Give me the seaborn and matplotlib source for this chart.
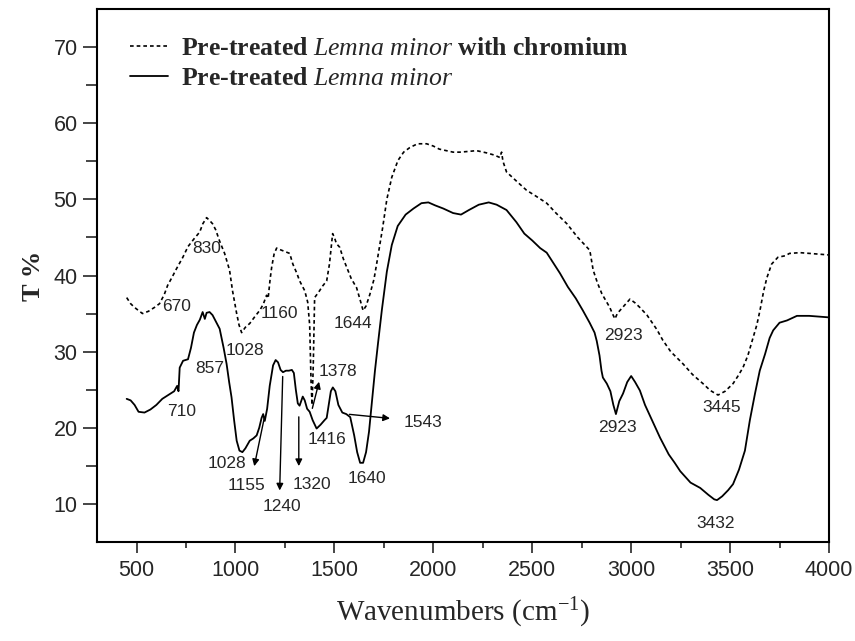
import matplotlib
matplotlib.use("Agg")
import matplotlib.pyplot as plt
import seaborn as sns
import pandas as pd

# ---- data ----
solid_x = [450, 470, 490, 510, 540, 570, 600, 630, 660, 690, 705, 712, 718, 735, 760, 775, 790,
           805, 820, 834, 845, 854, 869, 884, 900, 920, 940, 955, 968, 980, 993, 1006, 1020, 1035,
           1050, 1072, 1090, 1107, 1120, 1132, 1140, 1148, 1160, 1173, 1190, 1203, 1215, 1228, 1240,
           1255, 1270, 1285, 1295, 1305, 1315, 1324, 1340, 1350, 1362, 1375, 1390, 1410, 1430, 1450,
           1461, 1470, 1482, 1492, 1505, 1520, 1540, 1560, 1580, 1600, 1615, 1630, 1645, 1660, 1675,
           1690, 1705, 1720, 1740, 1765, 1790, 1820, 1860, 1900, 1940, 1975, 2010, 2050, 2100, 2140,
           2180, 2230, 2280, 2320, 2370, 2420, 2460, 2500, 2540, 2573, 2610, 2640, 2680, 2720, 2756,
           2790, 2815, 2826, 2840, 2850, 2857, 2877, 2895, 2910, 2923, 2940, 2959, 2980, 3000, 3020,
           3044, 3070, 3100, 3146, 3190, 3220, 3248, 3300, 3349, 3390, 3420, 3434, 3460, 3490, 3515,
           3545, 3575, 3600, 3626, 3650, 3677, 3700, 3718, 3750, 3788, 3838, 3900, 3950, 4000]
solid_y = [23.8, 23.6, 23.0, 22.1, 22.0, 22.4, 23.0, 23.8, 24.3, 24.8, 25.5, 24.8, 27.9, 28.8, 29.0,
           30.5, 32.5, 33.5, 34.2, 35.2, 34.3, 35.1, 35.2, 34.8, 34.0, 33.0, 30.5, 28.4, 26.0, 24.0,
           21.0, 18.3, 17.0, 16.8, 17.3, 18.3, 18.6, 19.0, 20.0, 21.3, 21.8, 20.9, 22.5, 25.5, 28.2,
           28.9, 28.6, 27.6, 27.3, 27.5, 27.5, 27.6, 27.2, 25.0, 23.2, 22.9, 24.1, 23.6, 22.5, 22.1,
           21.0, 19.9, 20.4, 21.0, 21.3, 22.8, 24.8, 25.3, 24.8, 23.0, 22.0, 21.8, 21.4, 19.0, 16.8,
           15.4, 15.4, 16.8, 19.5, 23.5, 27.5, 31.0, 35.5, 40.5, 44.0, 46.5, 48.0, 48.8, 49.5, 49.6,
           49.2, 48.8, 48.2, 48.0, 48.6, 49.3, 49.6, 49.3, 48.6, 47.0, 45.5, 44.6, 43.6, 43.0, 41.5,
           40.3, 38.5, 37.0, 35.4, 33.8, 32.5, 31.4, 29.5, 27.5, 26.6, 25.8, 24.8, 23.0, 21.8, 23.5,
           24.5, 26.0, 26.8, 26.0, 24.9, 23.0, 21.3, 18.7, 16.5, 15.4, 14.3, 12.8, 12.1, 11.2, 10.6,
           10.5, 11.0, 11.8, 12.6, 14.5, 17.0, 21.0, 24.5, 27.5, 29.7, 31.8, 32.8, 33.8, 34.1, 34.7,
           34.7, 34.6, 34.5]

dotted_x = [450, 470, 490, 510, 530, 560, 590, 616, 640, 657, 680, 700, 734, 760, 790, 819, 835,
            854, 870, 884, 900, 920, 945, 970, 985, 1006, 1018, 1031, 1050, 1072, 1095, 1122, 1140,
            1157, 1165, 1175, 1183, 1195, 1208, 1225, 1245, 1274, 1290, 1310, 1324, 1350, 1365, 1375,
            1382, 1387, 1393, 1400, 1420, 1440, 1461, 1475, 1491, 1500, 1510, 1527, 1545, 1562, 1585,
            1612, 1630, 1645, 1660, 1679, 1700, 1714, 1744, 1765, 1790, 1821, 1850, 1881, 1920, 1966,
            2000, 2030, 2066, 2100, 2134, 2180, 2218, 2270, 2310, 2336, 2345, 2352, 2370, 2420, 2471,
            2520, 2573, 2620, 2675, 2730, 2770, 2791, 2808, 2830, 2852, 2870, 2892, 2905, 2918, 2930,
            2943, 2970, 2994, 3020, 3044, 3080, 3130, 3160, 3200, 3262, 3310, 3363, 3400, 3439, 3475,
            3515, 3540, 3565, 3590, 3616, 3635, 3651, 3670, 3686, 3710, 3742, 3780, 3800, 3853, 3900,
            3950, 4000]
dotted_y = [37.1, 36.3, 35.8, 35.4, 35.0, 35.3, 35.8, 36.3, 37.5, 38.7, 39.8, 40.8, 42.4, 43.8, 44.8,
            45.7, 46.8, 47.6, 47.2, 46.8, 46.0, 44.5, 42.9, 40.7, 38.0, 35.0, 33.5, 32.5, 33.2, 33.7,
            34.5, 35.4, 36.2, 37.4, 37.0, 39.5, 41.1, 42.8, 43.6, 43.4, 43.2, 42.9, 41.5, 40.3, 39.3,
            38.0, 36.5, 33.5, 26.0, 23.0, 28.0, 37.1, 37.8, 38.6, 39.3, 41.5, 45.5, 45.0, 44.2, 43.7,
            42.2, 41.1, 39.6, 38.4, 36.8, 35.4, 36.0, 37.5, 39.5, 41.6, 46.3, 50.0, 52.9, 55.1, 56.2,
            56.8, 57.3, 57.3, 57.0, 56.6, 56.4, 56.2, 56.2, 56.3, 56.4, 56.1, 55.8, 55.5, 56.2, 55.0,
            53.6, 52.4, 51.2, 50.4, 49.5, 48.2, 46.8, 45.0, 43.9, 43.3, 40.7, 39.0, 37.6, 36.8, 35.8,
            35.0, 34.3, 35.0, 35.4, 36.2, 36.9, 36.4, 35.8, 34.8, 32.9, 31.5, 30.0, 28.4, 27.0, 25.8,
            24.9, 24.3, 24.8, 25.8, 26.8, 27.9, 29.5, 31.8, 33.5, 35.4, 38.0, 39.7, 41.5, 42.4, 42.6,
            42.9, 43.0, 42.9, 42.8, 42.7]

# peak labels: (text, x, y)
dotted_labels = [("830", 854, 43.6), ("670", 702, 35.9), ("1028", 1046, 30.1), ("1160", 1223, 35.0),
                 ("1644", 1593, 33.7), ("2923", 2959, 32.1), ("3445", 3459, 22.6)]
solid_labels = [("857", 869, 27.8), ("710", 727, 22.1), ("1028", 955, 15.3), ("1416", 1461, 18.4),
                ("1640", 1663, 13.3), ("2923", 2933, 20.0), ("3432", 3429, 7.4)]
# arrowed labels: (text, text_x, text_y, tail_x, tail_y, head_x, head_y)
arrow_labels = [("1155", 1056, 12.4, 1148, 21.6, 1092, 14.6),
                ("1240", 1233, 9.7, 1239, 27.1, 1223, 11.4),
                ("1320", 1385, 12.6, 1320, 21.8, 1320, 14.6),
                ("1378", 1518, 27.4, 1385, 22.2, 1426, 26.4),
                ("1543", 1947, 20.7, 1562, 21.8, 1795, 21.2)]

sns.set_style("ticks")
plt.rcParams["mathtext.fontset"] = "custom"
plt.rcParams["mathtext.rm"] = "Liberation Serif"
plt.rcParams["mathtext.it"] = "Liberation Serif:italic"
plt.rcParams["font.family"] = ["Liberation Sans", "DejaVu Sans"]

fig = plt.figure(figsize=(8.55, 6.41), dpi=100)
ax = fig.add_axes([97 / 855, 99 / 641, 732 / 855, 533 / 641])

df_dot = pd.DataFrame({"x": dotted_x, "y": dotted_y})
df_sol = pd.DataFrame({"x": solid_x, "y": solid_y})
sns.lineplot(data=df_dot, x="x", y="y", ax=ax, color="black", lw=1.2, linestyle=(0, (2.2, 1.8)),
             estimator=None, label=r"Pre-treated $\mathit{Lemna\ minor}$ with chromium")
sns.lineplot(data=df_sol, x="x", y="y", ax=ax, color="black", lw=1.3, linestyle="-",
             estimator=None, label=r"Pre-treated $\mathit{Lemna\ minor}$")

lab_font = dict(family="Liberation Sans", fontsize=12.5, ha="center", va="center")
for t, x, y in dotted_labels + solid_labels:
    ax.text(x, y, t, **lab_font)
for t, tx, ty, x0, y0, x1, y1 in arrow_labels:
    ax.annotate("", xy=(x1, y1), xytext=(x0, y0),
                arrowprops=dict(arrowstyle="-|>", color="black", lw=1.0, mutation_scale=10))
    ax.text(tx, ty, t, **lab_font)

ax.set_xlim(300, 4000)
ax.set_ylim(5, 75)
ax.set_xticks(range(500, 4001, 500))
ax.set_xticks(range(750, 4000, 500), minor=True)
ax.set_yticks(range(10, 71, 10))
ax.set_yticks(range(15, 75, 10), minor=True)
ax.tick_params(axis="both", which="both", direction="out", width=1.2, top=False, right=False,
               labelsize=15.5)
ax.tick_params(axis="x", which="major", length=8, pad=5)
ax.tick_params(axis="x", which="minor", length=4)
ax.tick_params(axis="y", which="major", length=10, pad=4)
ax.tick_params(axis="y", which="minor", length=8)
for s in ax.spines.values():
    s.set_linewidth(1.5)
    s.set_color("black")

ax.set_xlabel(r"Wavenumbers (cm$^{-1}$)", family="Liberation Serif", fontsize=21, labelpad=11)
ax.set_ylabel("T %", family="Liberation Serif", fontsize=19, fontweight="bold", labelpad=6)

leg = ax.legend(loc="upper left", bbox_to_anchor=(0.045, 0.948), frameon=False,
                borderaxespad=0, borderpad=0,
                handlelength=1.5, handletextpad=0.5, labelspacing=0.3,
                prop=dict(family="Liberation Serif", weight="bold", size=18.5))

fig.savefig("out.png", dpi=100)
